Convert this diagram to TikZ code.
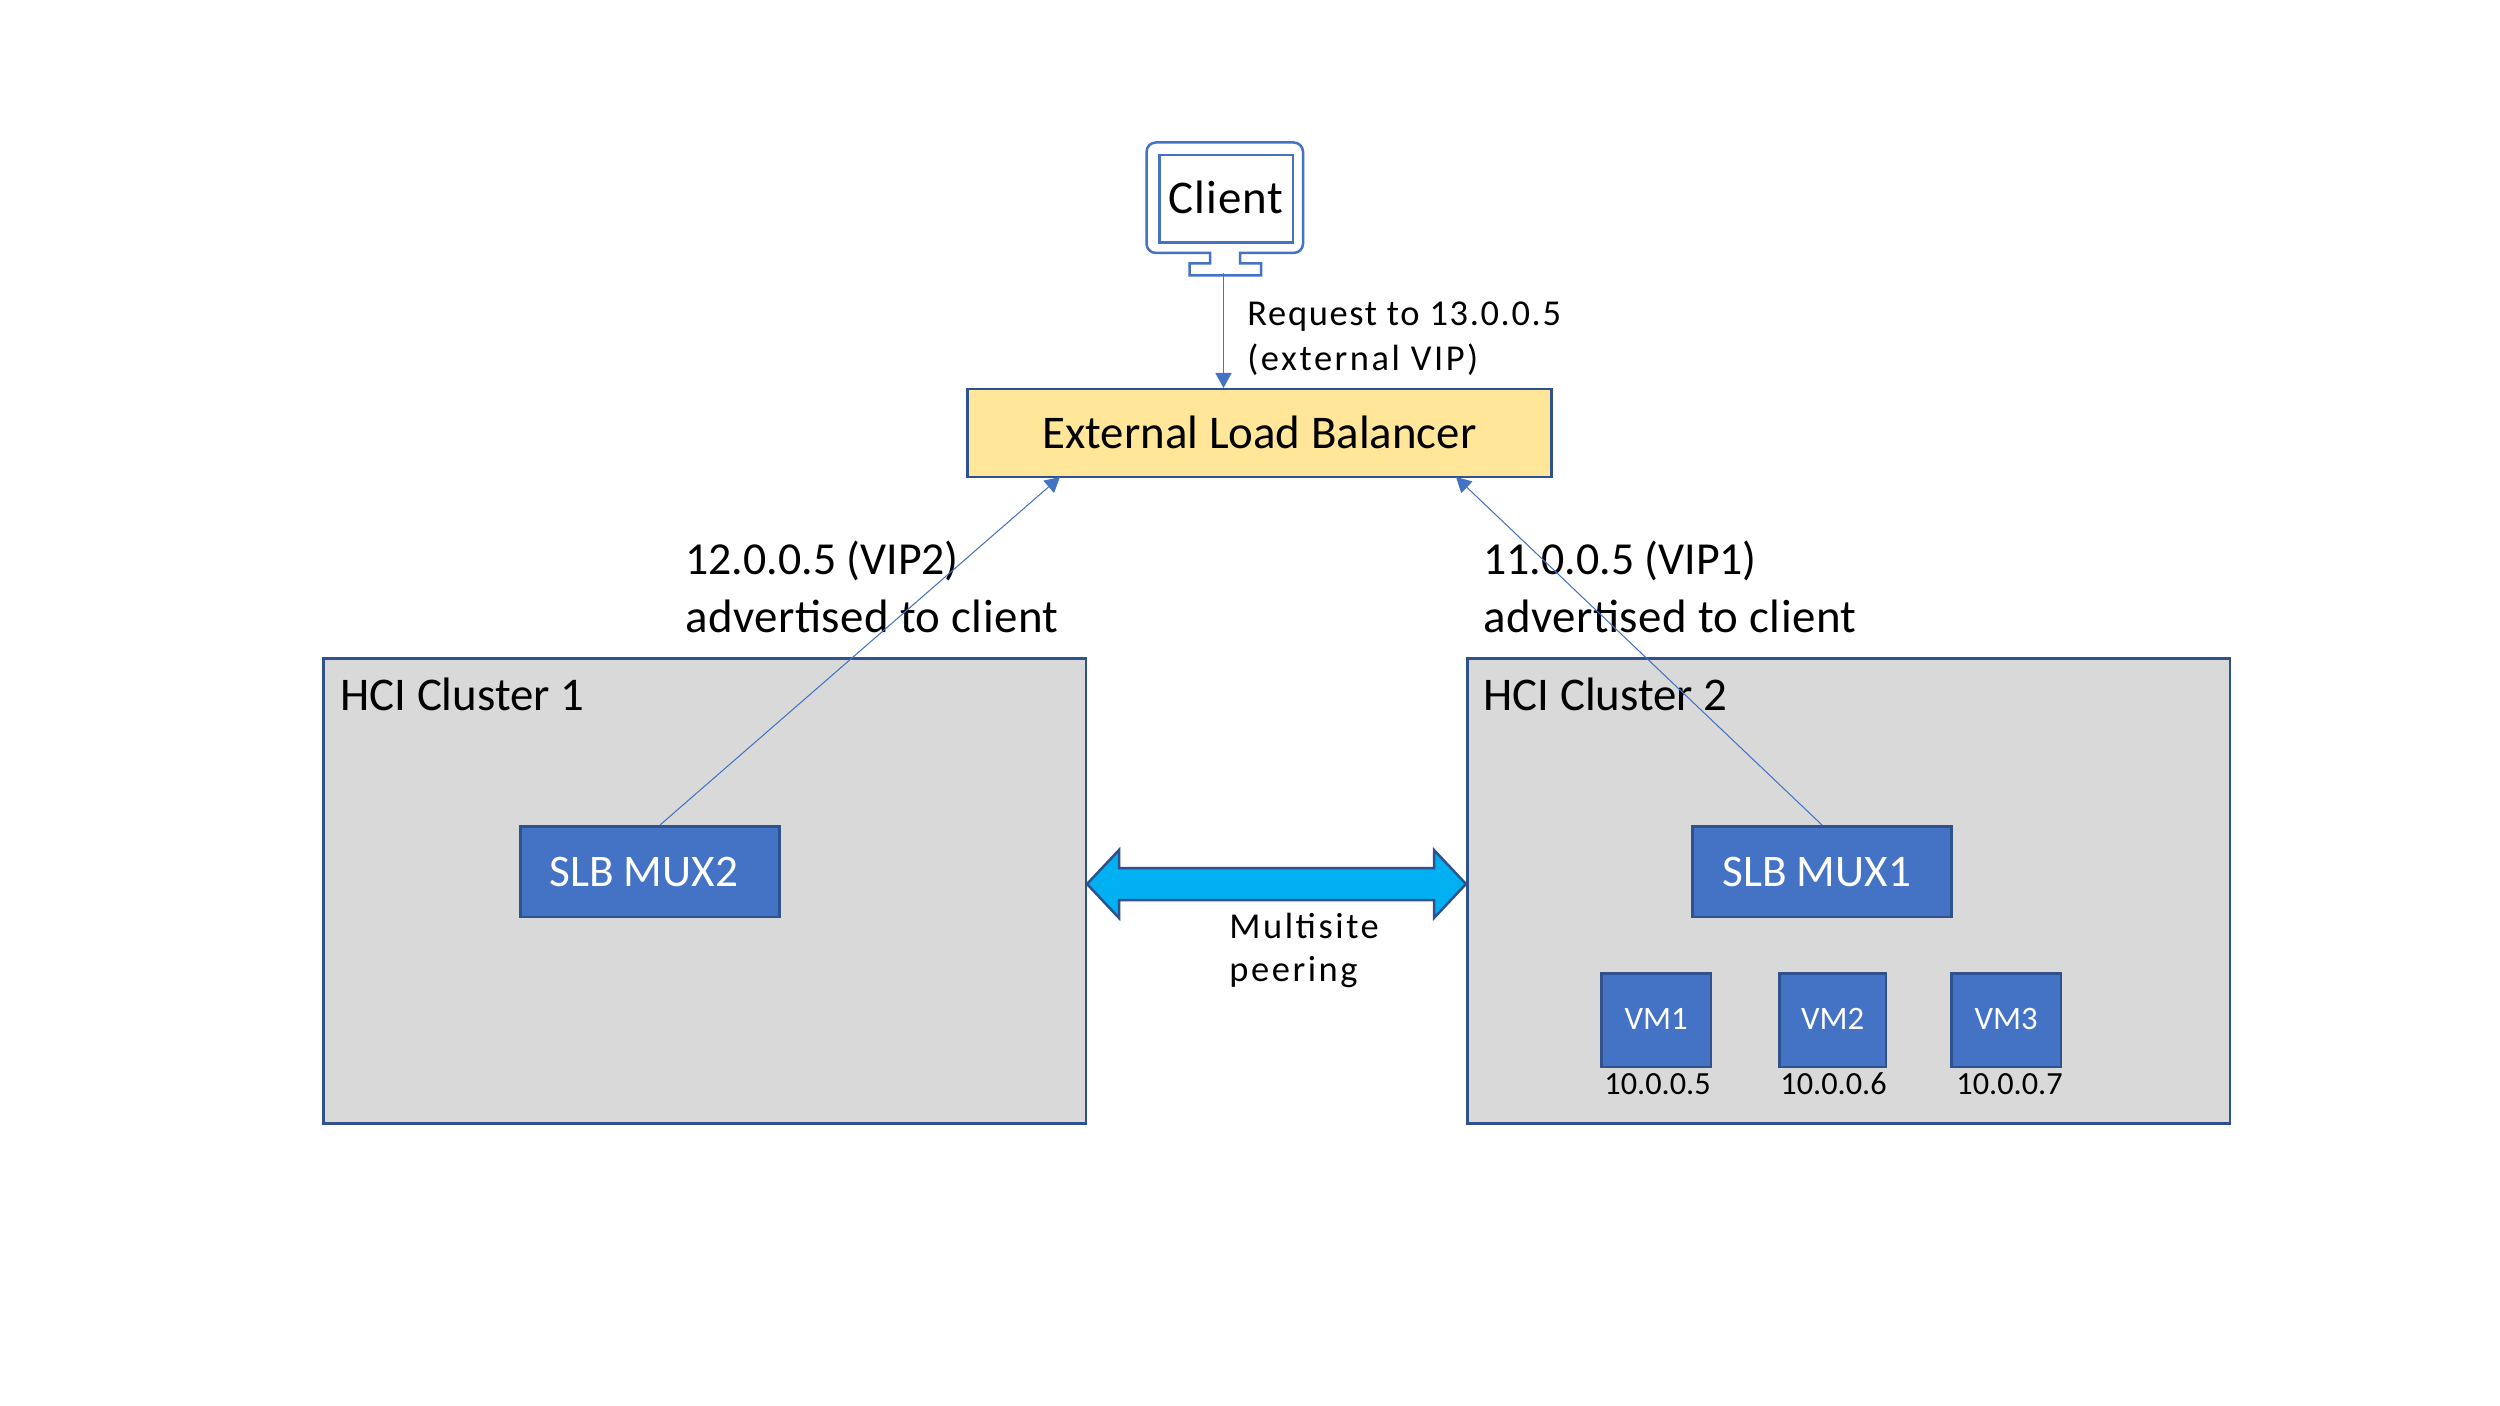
\documentclass[tikz,border=0pt]{standalone}
\usepackage{fontspec}
\setmainfont{Carlito}
\newfontfamily\spaced[LetterSpace=4.5]{Carlito}
\newfontfamily\wider[LetterSpace=7]{Carlito}
\newfontfamily\slight[LetterSpace=2]{Carlito}
\newfontfamily\tracked[LetterSpace=1]{Carlito}
\definecolor{blueline}{HTML}{2F528F}
\definecolor{bluefill}{HTML}{4472C4}
\definecolor{greyfill}{HTML}{D9D9D9}
\definecolor{yellowfill}{HTML}{FFE699}
\definecolor{cyanfill}{HTML}{00B0F0}
\newcommand{\fs}[1]{\fontsize{#1}{#1}\selectfont}
\usetikzlibrary{arrows.meta}
\tikzset{
  px/.style={x=0.48pt,y=-0.48pt},
  box/.style={draw=blueline,line width=1.2pt,inner sep=0pt,anchor=north west},
  cluster/.style={box,fill=greyfill,minimum width=366pt,minimum height=223.2pt},
  mux/.style={box,fill=bluefill,text=white,minimum width=124.5pt,minimum height=43.5pt,font=\fs{21.7}},
  vm/.style={box,fill=bluefill,text=white,minimum height=45pt,font=\fs{15.7}},
  lbl/.style={inner sep=0pt,anchor=west,align=left,text=black},
  wire/.style={draw=bluefill,line width=0.5pt,-{Triangle[length=7.2pt,width=7.7pt]}},
  mon/.style={draw=bluefill,line width=1.2pt,fill=white}
}
\begin{document}
\begin{tikzpicture}[px]
\useasboundingbox (0,0) rectangle (2500,1406);
% monitor
\draw[mon] (1210,253) [rounded corners=4.5pt] -- (1146.5,253) -- (1146.5,142.5) -- (1303,142.5) -- (1303,253) [sharp corners] -- (1240,253) -- (1240,263.5) -- (1261,263.5) -- (1261,275.5) -- (1189.5,275.5) -- (1189.5,263.5) -- (1210,263.5) -- cycle;
\node[mon,inner sep=0pt,anchor=north west,minimum width=64.3pt,minimum height=41.8pt] (client) at (1158,154) {};
\node[font=\slight\fs{22.5},inner sep=0pt] (clienttext) at (1226,197) {Client};
\coordinate (clientout) at (1223.5,273);
% load balancer
\node[box,fill=yellowfill,minimum width=280.5pt,minimum height=42.2pt,font=\fs{22.5}] (elb) at (966,388) {\raisebox{0.7pt}{External Load Balancer}};
% clusters
\node[cluster] (c1) at (322,657) {};
\node[cluster] (c2) at (1466,657) {};
\node[lbl,font=\fs{22.5}] (c1t) at (340,694) {HCI Cluster 1};
\node[lbl,font=\fs{22.5}] (c2t) at (1483,694) {HCI Cluster 2};
% mux
\node[mux] (mux2) at (519,825) {SLB MUX2\hspace*{6pt}};
\node[mux] (mux1) at (1691,825) {SLB MUX1\hspace*{5pt}};
% vms
\node[vm,minimum width=52.6pt] (vm1) at (1600,972) {\raisebox{1pt}{VM1}};
\node[vm,minimum width=51.2pt] (vm2) at (1778,972) {\raisebox{1pt}{VM2}};
\node[vm,minimum width=52.6pt] (vm3) at (1950,972) {\raisebox{1pt}{VM3}};
\node[lbl,font=\fs{15.5}] (ip1) at (1604,1084) {10.0.0.5};
\node[lbl,font=\fs{15.5}] (ip2) at (1780,1084) {10.0.0.6};
\node[lbl,font=\fs{15.5}] (ip3) at (1956,1084) {10.0.0.7};
% labels
\node[lbl,font=\fs{22}] (vip2) at (685,561) {12.0.0.5 (VIP2)};
\node[lbl,font=\tracked\fs{22.5}] (adv2) at (685,616) {advertised to client};
\node[lbl,font=\fs{22}] (vip1) at (1483,561) {11.0.0.5 (VIP1)};
\node[lbl,font=\tracked\fs{22.5}] (adv1) at (1483,616) {advertised to client};
\node[lbl,font=\spaced\fs{17.5}] (req) at (1247,317) {Request to 13.0.0.5};
\node[lbl,font=\wider\fs{17.5}] (ext) at (1247,360) {(external VIP)};
\node[lbl,font=\wider\fs{17.5}] (ms) at (1229,926) {Multisite};
\node[lbl,font=\wider\fs{17.5}] (pe) at (1229,972) {peering};
% connectors
\coordinate (m2out) at (660,825);
\coordinate (m1out) at (1822,825);
\coordinate (e2) at (1060,477);
\coordinate (e1) at (1456,477);
\draw[wire] (clientout) -- (clientout |- elb.north);
\draw[wire] (m2out) -- (e2);
\draw[wire] (m1out) -- (e1);
% double arrow
\draw[draw=blueline,fill=cyanfill,line width=1.2pt,line join=miter]
  (c1.east |- 0,884) -- (1119,850) -- (1119,868) -- (1434,868) -- (1434,850) -- (c2.west |- 0,884)
  -- (1434,918) -- (1434,900) -- (1119,900) -- (1119,918) -- cycle;
\end{tikzpicture}
\end{document}
